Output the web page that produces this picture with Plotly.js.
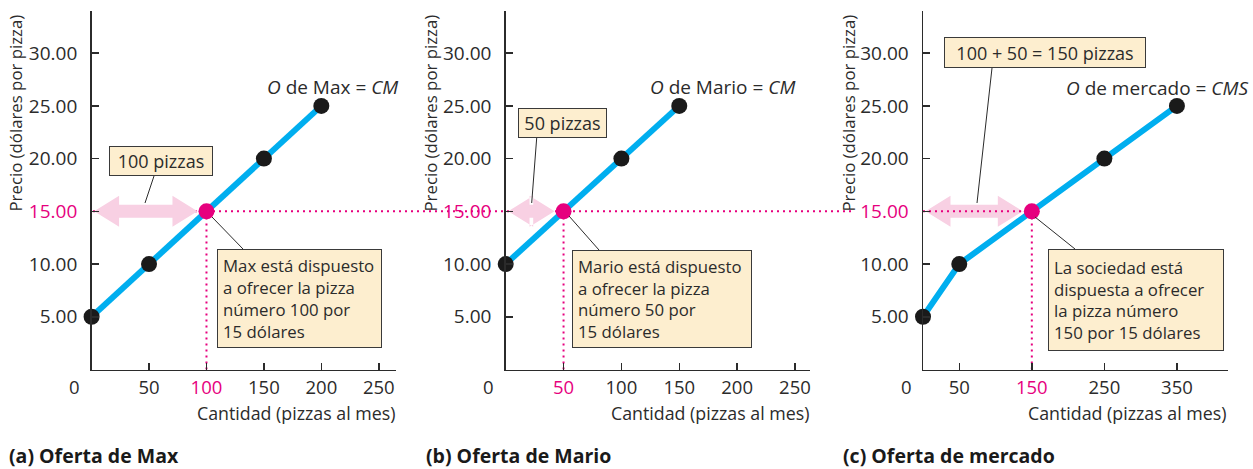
<!DOCTYPE html>
<html><head><meta charset="utf-8">
<script src="https://cdn.plot.ly/plotly-3.0.1.min.js"></script>
<style>body{margin:0;background:#fff}#chart{width:1253px;height:469px}</style>
</head><body><div id="chart"></div>
<script>
// ---- data ----
const qMax = [0, 50, 100, 150, 200];
const pMax = [5, 10, 15, 20, 25];
const qMario = [0, 50, 100, 150];
const pMario = [10, 15, 20, 25];
const qMarket = [0, 50, 150, 250, 350];
const pMarket = [5, 10, 15, 20, 25];
const priceTicks = [5, 10, 15, 20, 25, 30];
const priceTickText = ['5.00', '10.00', '15.00', '20.00', '25.00', '30.00'];
const qTicksA = [50, 100, 150, 200, 250];
const qTicksB = [50, 100, 150, 200, 250];
const qTicksC = [50, 150, 250, 350];
const focusPrice = 15;
const focusQA = 100, focusQB = 50, focusQC = 150;
const curveLabels = ['<i>O</i> de Max = <i>CM</i>', '<i>O</i> de Mario = <i>CM</i>', '<i>O</i> de mercado = <i>CMS</i>'];
const qtyBoxes = ['100 pizzas', '50 pizzas', '100 + 50 = 150 pizzas'];
const noteBoxes = [
  'Max está dispuesto<br>a ofrecer la pizza<br>número 100 por<br>15 dólares',
  'Mario está dispuesto<br>a ofrecer la pizza<br>número 50 por<br>15 dólares',
  'La sociedad está<br>dispuesta a ofrecer<br>la pizza número<br>150 por 15 dólares'
];
const panelTitles = ['(a) Oferta de Max', '(b) Oferta de Mario', '(c) Oferta de mercado'];
const xTitle = 'Cantidad (pizzas al mes)';
const yTitle = 'Precio (dólares por pizza)';

// ---- style ----
const W = 1253, H = 469;
const FONT = '"Open Sans", Lato, sans-serif';
const INK = '#2b2b2b';
const BLUE = '#00aeef';
const PINK = '#e6007e';
const LPINK = '#f8d0e3';
const BOXFILL = '#fdeecf';
const px = p => p / W;
const py = p => 1 - p / H;

const yDom = [py(369.5), py(11)];
const yRange = [0, 34];
const panels = [
  {q: qMax, p: pMax, ticks: qTicksA, focus: focusQA, dom: [px(91.6), px(396)], range: [0, 265], ax: ''},
  {q: qMario, p: pMario, ticks: qTicksB, focus: focusQB, dom: [px(505.7), px(810)], range: [0, 263], ax: '2'},
  {q: qMarket, p: pMarket, ticks: qTicksC, focus: focusQC, dom: [px(923), px(1227.7)], range: [0, 420], ax: '3'}
];

const traces = [];
const shapes = [];
const annotations = [];
const layout = {
  width: W, height: H,
  margin: {l: 0, r: 0, t: 0, b: 0},
  paper_bgcolor: '#ffffff', plot_bgcolor: 'rgba(0,0,0,0)',
  showlegend: false,
  font: {family: FONT, color: INK, size: 18}
};

const pxPerY = (yDom[1] - yDom[0]) * H / (yRange[1] - yRange[0]);

panels.forEach((P, i) => {
  const xa = 'x' + P.ax, ya = 'y' + P.ax;
  const pxPerX = (P.dom[1] - P.dom[0]) * W / (P.range[1] - P.range[0]);
  layout['xaxis' + P.ax] = {
    domain: P.dom, range: P.range, anchor: ya,
    tickvals: P.ticks,
    ticktext: P.ticks.map(t => t === P.focus ? `<span style="color:${PINK}">${t}</span>` : String(t)),
    ticks: 'inside', ticklen: 7, tickwidth: 1.5, tickcolor: INK,
    showline: true, linecolor: INK, linewidth: 1.5,
    showgrid: false, zeroline: false, fixedrange: true,
    ticklabelstandoff: 1,
    tickfont: {family: FONT, size: 18.5, color: INK}
  };
  layout['yaxis' + P.ax] = {
    domain: yDom, range: yRange, anchor: xa,
    tickvals: priceTicks,
    ticktext: priceTickText.map((t, k) => priceTicks[k] === focusPrice ? `<span style="color:${PINK}">${t}</span>` : t),
    ticks: 'inside', ticklen: 7, tickwidth: 1.5, tickcolor: INK,
    showline: true, linecolor: INK, linewidth: 1.5,
    showgrid: false, zeroline: false, fixedrange: true,
    ticklabelstandoff: 9,
    tickfont: {family: FONT, size: 19, color: INK}
  };

  // supply curve
  traces.push({x: P.q, y: P.p, xaxis: xa, yaxis: ya, type: 'scatter', mode: 'lines',
    line: {color: BLUE, width: 6}, cliponaxis: false, hoverinfo: 'skip'});
  const bx = [], by = [];
  P.q.forEach((q, k) => { if (!(q === P.focus && P.p[k] === focusPrice)) { bx.push(q); by.push(P.p[k]); } });
  traces.push({x: bx, y: by, xaxis: xa, yaxis: ya, type: 'scatter', mode: 'markers',
    marker: {color: '#1a1a1a', size: 16}, cliponaxis: false, hoverinfo: 'skip'});
  traces.push({x: [P.focus], y: [focusPrice], xaxis: xa, yaxis: ya, type: 'scatter', mode: 'markers',
    marker: {color: PINK, size: 16}, cliponaxis: false, hoverinfo: 'skip'});

  // pink double arrow from 0 to focus quantity at focus price
  const dx = v => v / pxPerX, dy = v => v / pxPerY;
  const x0 = dx(2.5), x1 = P.focus - dx(9);
  const hl = dx(25), hh = dy(15.5), sh = dy(6.5), y = focusPrice;
  const pts = [[x0, y], [x0 + hl, y + hh], [x0 + hl, y + sh], [x1 - hl, y + sh], [x1 - hl, y + hh], [x1, y],
    [x1 - hl, y - hh], [x1 - hl, y - sh], [x0 + hl, y - sh], [x0 + hl, y - hh]];
  shapes.push({type: 'path', xref: xa, yref: ya, layer: 'below',
    path: 'M' + pts.map(p => p[0] + ',' + p[1]).join('L') + 'Z',
    fillcolor: LPINK, line: {width: 0}});
  // vertical dotted line
  shapes.push({type: 'line', xref: xa, yref: ya, layer: 'below', x0: P.focus, x1: P.focus, y0: 0, y1: focusPrice,
    line: {color: PINK, width: 2, dash: '2px,4px'}});
});

// horizontal dotted lines at focus price
shapes.push({type: 'line', xref: 'paper', yref: 'y', layer: 'below', x0: px(93), x1: px(852), y0: focusPrice, y1: focusPrice,
  line: {color: PINK, width: 2, dash: '2px,4px'}});
shapes.push({type: 'line', xref: 'x3', yref: 'y3', layer: 'below', x0: 0, x1: focusQC, y0: focusPrice, y1: focusPrice,
  line: {color: PINK, width: 2, dash: '2px,4px'}});

// boxes (outer px: left, top, width, height)
const boxGeom = [
  [109, 146, 104, 30], [518, 108, 89, 30], [944, 37, 202, 31]
];
const noteGeom = [
  [217, 249, 165, 99], [572, 250, 180, 98], [1048, 249, 176, 102]
];
function box(text, g, size, pad, align) {
  const bw = 1;
  annotations.push({xref: 'paper', yref: 'paper', x: px(g[0]), y: py(g[1]), xanchor: 'left', yanchor: 'top',
    width: g[2] - 2 * (pad + bw), height: g[3] - 2 * (pad + bw),
    text: text, showarrow: false, align: align, valign: 'middle',
    bgcolor: BOXFILL, bordercolor: '#3a3a3a', borderwidth: bw, borderpad: pad,
    font: {family: FONT, size: size, color: INK}});
}
qtyBoxes.forEach((t, i) => box(t, boxGeom[i], 18, 2, 'center'));
noteBoxes.forEach((t, i) => box(t, noteGeom[i], 16.8, 5, 'left'));

// leader lines (px)
const leaders = [
  [154, 176, 145, 203], [243, 249, 212, 217],
  [536.7, 138, 531.7, 203], [599, 250, 569, 216],
  [992, 68, 977, 203], [1075, 249, 1035, 217]
];
leaders.forEach(l => shapes.push({type: 'line', xref: 'paper', yref: 'paper', layer: 'above',
  x0: px(l[0]), y0: py(l[1]), x1: px(l[2]), y1: py(l[3]), line: {color: '#2b2b2b', width: 1}}));

// curve labels
const curveLabelPos = [[332, 87], [722, 87], [1157, 88]];
curveLabels.forEach((t, i) => annotations.push({xref: 'paper', yref: 'paper', x: px(curveLabelPos[i][0]), y: py(curveLabelPos[i][1]),
  xanchor: 'center', yanchor: 'middle', text: t, showarrow: false, font: {family: FONT, size: 19, color: INK}}));

// origin zeros
const zeroPos = [[74, 386], [488, 386], [906, 386]];
zeroPos.forEach(z => annotations.push({xref: 'paper', yref: 'paper', x: px(z[0]), y: py(z[1]),
  xanchor: 'center', yanchor: 'middle', text: '0', showarrow: false, font: {family: FONT, size: 18.5, color: INK}}));

// axis titles
const xTitlePos = [[397, 412.5], [810.7, 412.5], [1228, 412.5]];
xTitlePos.forEach(p => annotations.push({xref: 'paper', yref: 'paper', x: px(p[0]), y: py(p[1]),
  xanchor: 'right', yanchor: 'middle', text: xTitle, showarrow: false, font: {family: FONT, size: 17.8, color: INK}}));
const yTitlePos = [[15, 113.5], [430, 113.5], [848, 113.5]];
yTitlePos.forEach(p => annotations.push({xref: 'paper', yref: 'paper', x: px(p[0]), y: py(p[1]),
  xanchor: 'center', yanchor: 'middle', textangle: -90, text: yTitle, showarrow: false, font: {family: FONT, size: 16.8, color: INK}}));

// panel titles
const ptPos = [[7, 455], [424, 455], [841, 455]];
panelTitles.forEach((t, i) => annotations.push({xref: 'paper', yref: 'paper', x: px(ptPos[i][0]), y: py(ptPos[i][1]),
  xanchor: 'left', yanchor: 'middle', text: '<b>' + t + '</b>', showarrow: false, font: {family: FONT, size: 19.5, color: '#1a1a1a'}}));

layout.shapes = shapes;
layout.annotations = annotations;
Plotly.newPlot('chart', traces, layout, {staticPlot: true, displayModeBar: false});
</script>
</body></html>
